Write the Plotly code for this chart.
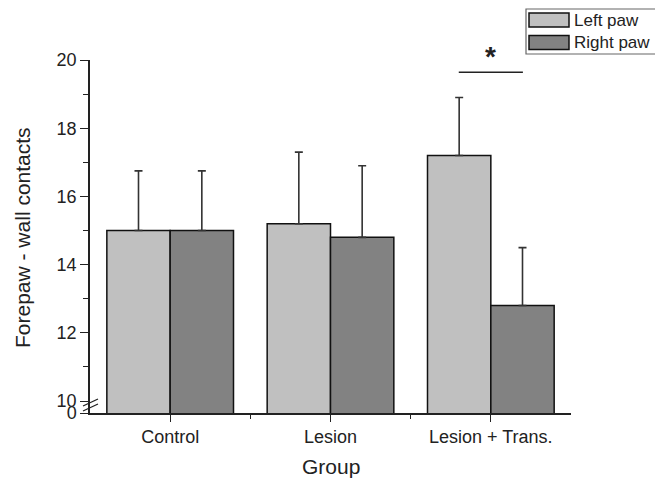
import plotly.graph_objects as go

categories = ["Control", "Lesion", "Lesion + Trans."]
left_paw = [15.0, 15.2, 17.2]
right_paw = [15.0, 14.8, 12.8]
left_err = [1.75, 2.1, 1.7]
right_err = [1.75, 2.1, 1.7]
series_names = ["Left paw", "Right paw"]
y_tick_vals = [10, 12, 14, 16, 18, 20]
y_minor_vals = [11, 13, 15, 17, 19]
y_bottom = 9.65  # axis break: bottom shown as "0"

# page has an 8px body margin; figure sized to fill the rest
OFF = 8
W, H = 663 - OFF, 478 - OFF
L, T = 90 - OFF, 60 - OFF
R, B = 663 - 571, 478 - 413
PW, PH = W - L - R, H - T - B

def px_x(px):
    return (px - OFF - L) / PW

def px_y(py):
    return (H - B - (py - OFF)) / PH

FONT = "Liberation Sans, Arial, sans-serif"
INK = "#222222"
xs = list(range(len(categories)))
colors = ["#c0c0c0", "#828282"]

fig = go.Figure()
for name, vals, errs, col in [
    (series_names[0], left_paw, left_err, colors[0]),
    (series_names[1], right_paw, right_err, colors[1]),
]:
    fig.add_trace(go.Bar(
        x=xs, y=vals, name=name,
        marker=dict(color=col, line=dict(color="#111111", width=1.5)),
        error_y=dict(type="data", symmetric=False, array=errs,
                     arrayminus=[0] * len(errs), color="#333333",
                     thickness=1.6, width=4),
        showlegend=False,
    ))

fig.update_layout(
    width=W, height=H,
    margin=dict(l=L, r=R, t=T, b=B, autoexpand=False),
    plot_bgcolor="white", paper_bgcolor="white",
    barmode="group", bargap=0.21, bargroupgap=0,
    font=dict(family=FONT, size=18, color=INK),
)
fig.update_xaxes(
    range=[-0.5, 2.5], tickvals=xs, ticktext=categories,
    showline=True, linecolor=INK, linewidth=1.5,
    ticks="outside", ticklen=7, tickwidth=1.3, tickcolor=INK,
    minor=dict(tickvals=[0.5, 1.5], ticks="outside", ticklen=4,
               tickcolor=INK, tickwidth=1.3),
    showgrid=False, zeroline=False, automargin=False,
    tickfont=dict(size=18),
)
fig.update_yaxes(
    range=[y_bottom, 20],
    tickvals=[y_bottom] + y_tick_vals,
    ticktext=["0"] + [str(v) for v in y_tick_vals],
    showline=True, linecolor=INK, linewidth=1.5,
    ticks="outside", ticklen=8, tickwidth=1.3, tickcolor=INK,
    minor=dict(tickvals=y_minor_vals, ticks="outside", ticklen=5,
               tickcolor=INK, tickwidth=1.3),
    showgrid=False, zeroline=False, automargin=False,
    tickfont=dict(size=18),
)

# axis titles
fig.add_annotation(xref="paper", yref="paper", x=px_x(331), y=px_y(466),
                   text="Group", showarrow=False, xanchor="center", yanchor="middle",
                   font=dict(size=21, color=INK))
fig.add_annotation(xref="paper", yref="paper", x=px_x(22), y=px_y(238),
                   text="Forepaw - wall contacts", showarrow=False, textangle=-90,
                   xanchor="center", yanchor="middle", font=dict(size=21, color=INK))

# axis break marks
for dy in (0, 5):
    fig.add_shape(type="line", xref="paper", yref="paper",
                  x0=px_x(83), y0=px_y(406 + dy), x1=px_x(98), y1=px_y(399 + dy),
                  line=dict(color=INK, width=1.3))

# significance bar and asterisk
fig.add_shape(type="line", xref="x", yref="y", x0=1.8, x1=2.2, y0=19.64, y1=19.64,
              line=dict(color=INK, width=1.5))
fig.add_annotation(xref="x", yref="paper", x=2.0, y=px_y(57), text="<b>*</b>",
                   showarrow=False, yanchor="middle", font=dict(size=28, color=INK))

# manual legend
fig.add_shape(type="rect", xref="paper", yref="paper",
              x0=px_x(526), x1=px_x(658), y0=px_y(54), y1=px_y(9),
              line=dict(color="#666666", width=1.2), fillcolor="white")
for i, (name, col) in enumerate(zip(series_names, colors)):
    top = 13 + i * 22.5
    fig.add_shape(type="rect", xref="paper", yref="paper",
                  x0=px_x(529), x1=px_x(569), y0=px_y(top + 14), y1=px_y(top),
                  line=dict(color="#111111", width=1.5), fillcolor=col)
    fig.add_annotation(xref="paper", yref="paper", x=px_x(572), y=px_y(top + 7),
                       text=name, showarrow=False, xanchor="left", yanchor="middle",
                       font=dict(size=17, color=INK))

fig.write_html("out.html")
